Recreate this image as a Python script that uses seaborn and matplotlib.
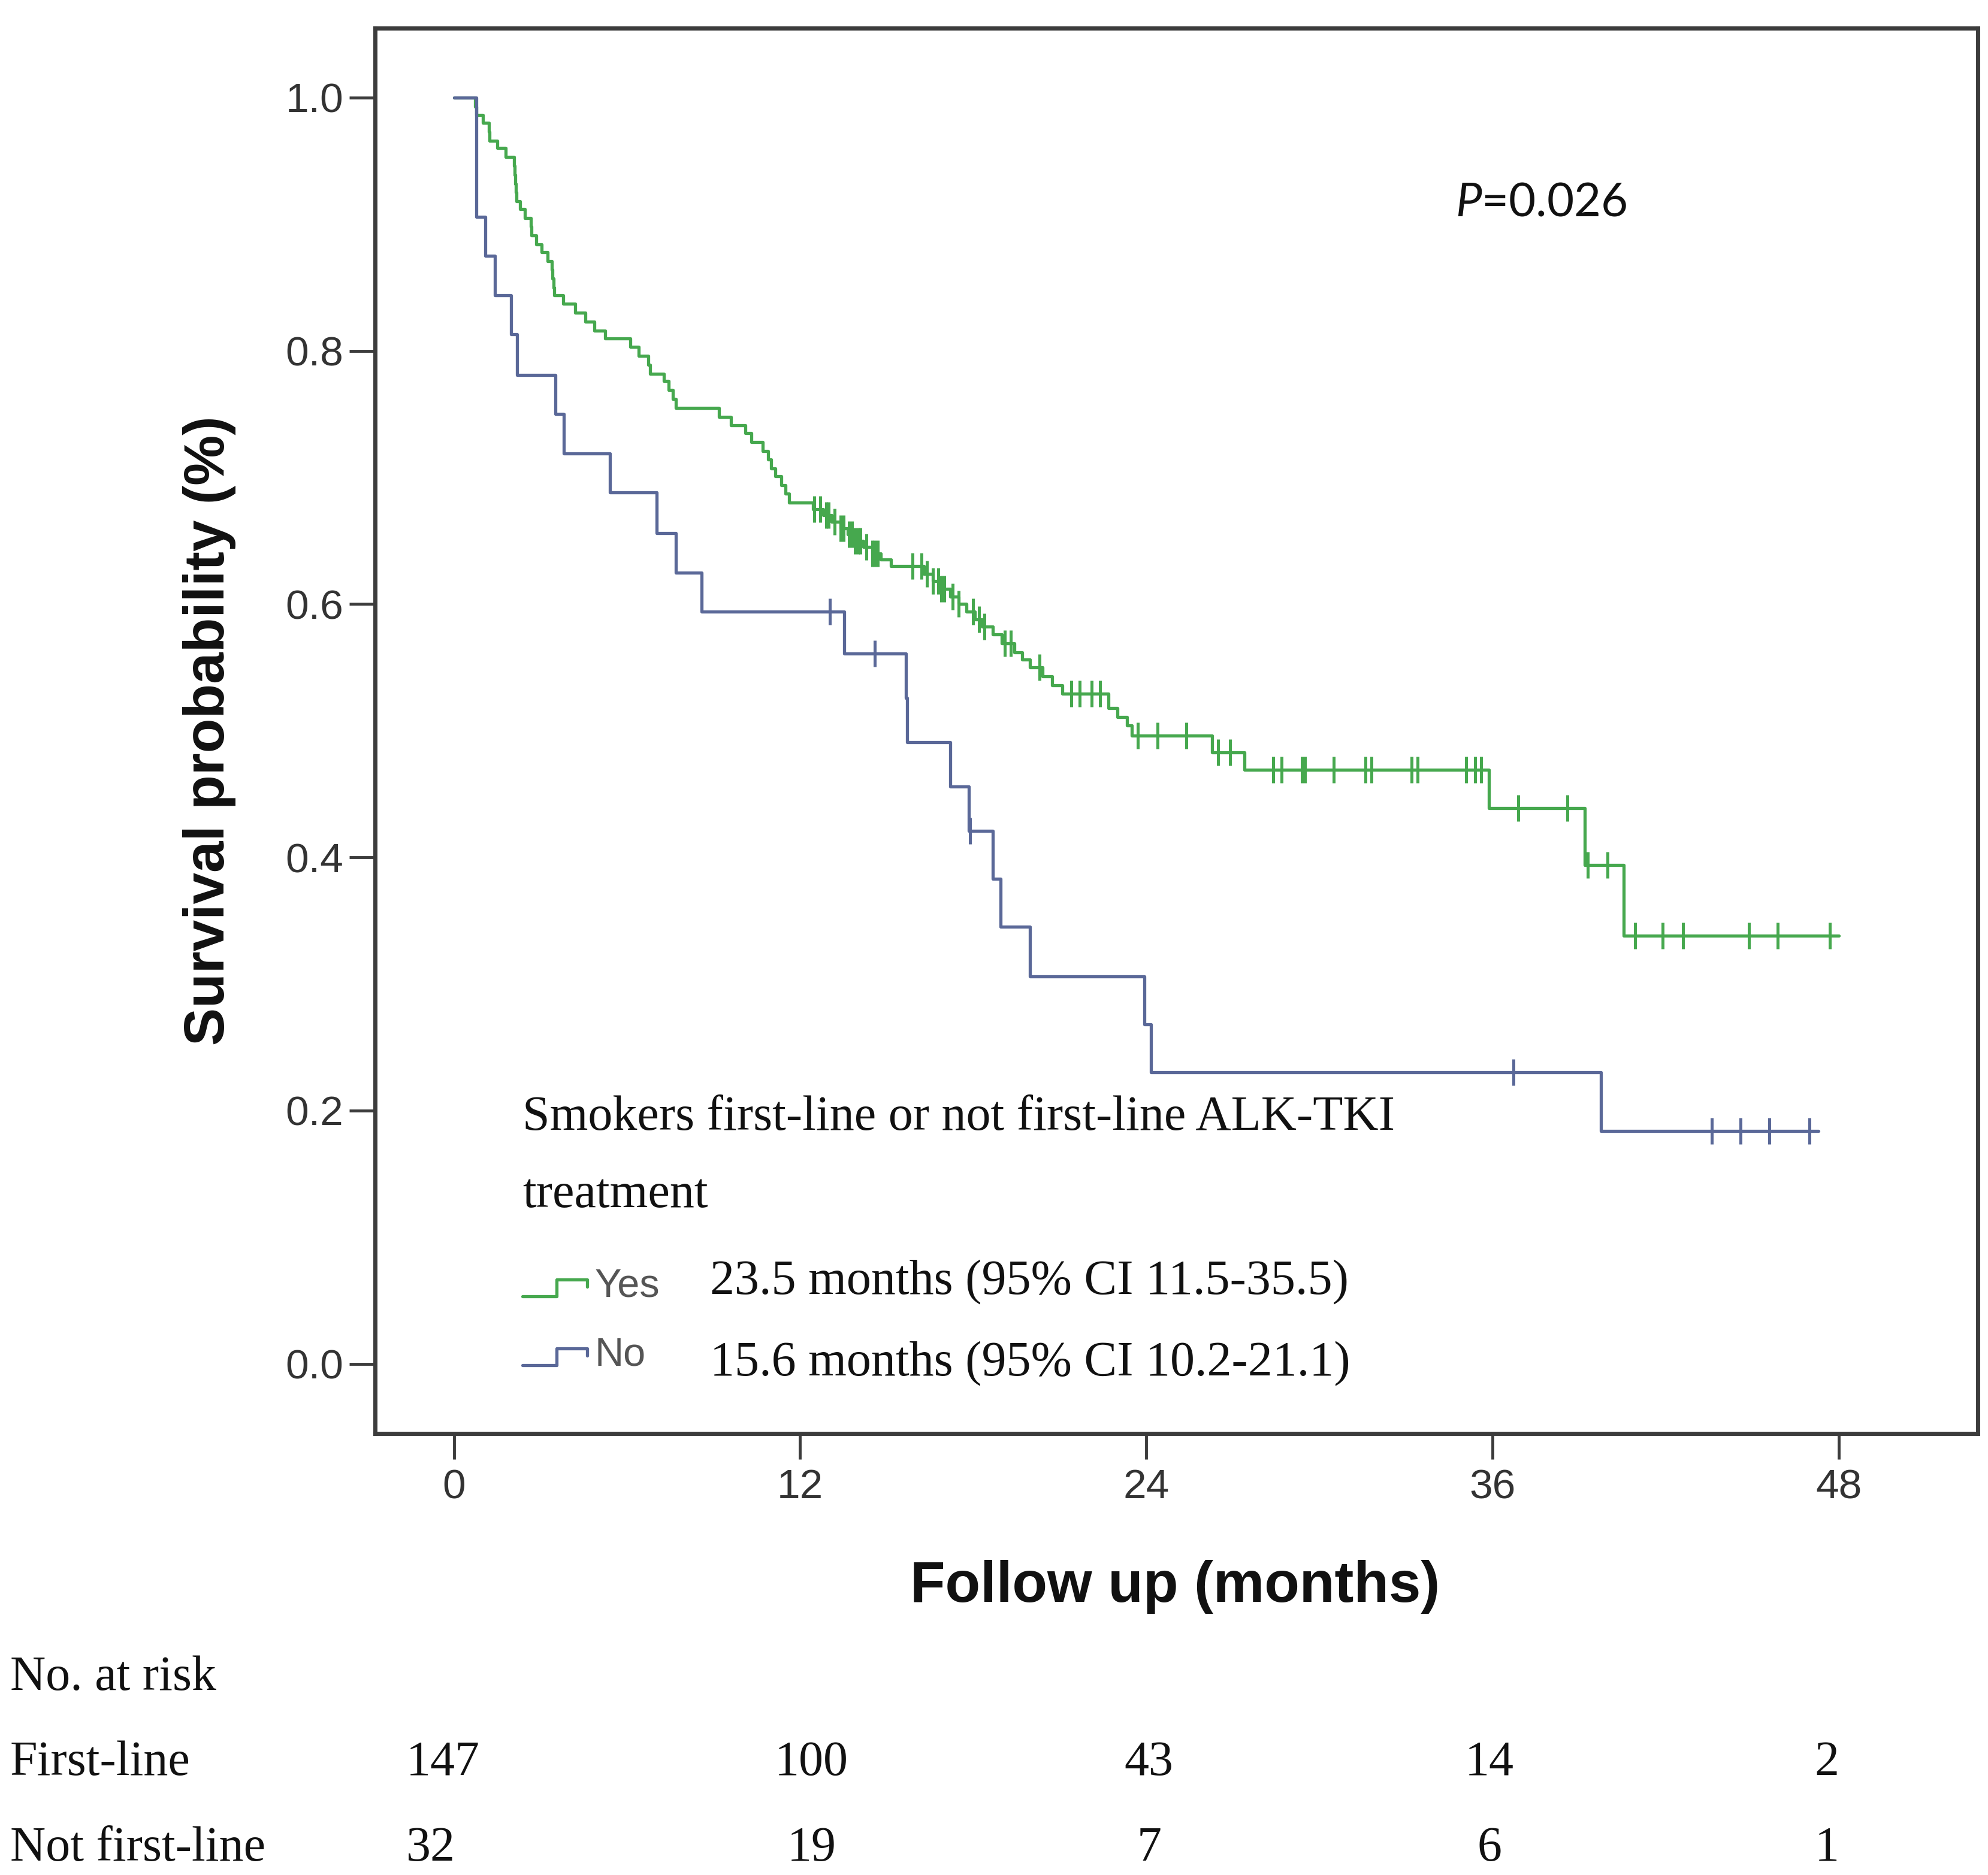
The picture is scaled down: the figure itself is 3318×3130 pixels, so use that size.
import numpy as np
import pandas as pd
import matplotlib
matplotlib.use("Agg")
import matplotlib.pyplot as plt
import matplotlib.transforms as mtrans
from matplotlib.lines import Line2D
from matplotlib.legend_handler import HandlerBase
import seaborn as sns

# ---------------- data ----------------
groups = ["Yes", "No"]

yes_time = [0, 0.74, 0.77, 1.00, 1.22, 1.24, 1.50, 1.80, 2.08, 2.10, 2.12, 2.14, 2.16,
            2.30, 2.45, 2.66, 2.68, 2.85, 3.05, 3.25, 3.40, 3.42, 3.45, 3.47, 3.80,
            4.20, 4.55, 4.87, 5.25, 6.11, 6.40, 6.74, 6.81, 7.28, 7.45, 7.60, 7.69,
            9.20, 9.60, 10.10, 10.31, 10.71, 10.90, 11.00, 11.15, 11.35, 11.50, 11.62,
            12.45, 12.80, 13.10, 13.40, 13.65, 13.90, 14.20, 14.50, 14.80, 15.16,
            16.30, 16.60, 16.90, 17.20, 17.50, 17.76, 18.05, 18.30, 18.68, 19.00,
            19.42, 19.70, 19.98, 20.40, 20.73, 21.10, 22.70, 23.00, 23.33, 23.51,
            26.28, 27.40, 35.88, 39.20, 40.56, 48.00]
yes_surv = [1.000, 0.993, 0.986, 0.980, 0.973, 0.966, 0.960, 0.953, 0.946, 0.939, 0.932,
            0.925, 0.918, 0.912, 0.905, 0.898, 0.891, 0.884, 0.878, 0.871, 0.864, 0.857,
            0.850, 0.844, 0.837, 0.830, 0.823, 0.816, 0.810, 0.803, 0.796, 0.789, 0.782,
            0.776, 0.769, 0.762, 0.755, 0.748, 0.741, 0.735, 0.728, 0.721, 0.714, 0.707,
            0.701, 0.694, 0.687, 0.680, 0.675, 0.670, 0.665, 0.660, 0.655, 0.650, 0.645,
            0.640, 0.635, 0.630, 0.624, 0.618, 0.612, 0.606, 0.600, 0.594, 0.588, 0.582,
            0.576, 0.569, 0.562, 0.556, 0.550, 0.543, 0.536, 0.529, 0.518, 0.511, 0.504,
            0.496, 0.483, 0.469, 0.439, 0.394, 0.338, 0.338]
yes_censor = [12.5, 12.7, 12.9, 13.0, 13.2, 13.4, 13.5, 13.7, 13.8, 13.9, 14.0, 14.1,
              14.3, 14.5, 14.6, 14.7, 15.9, 16.2, 16.4, 16.6, 16.8, 16.9, 17.0, 17.3,
              17.5, 18.0, 18.2, 18.4, 19.1, 19.3, 20.3, 21.4, 21.7, 22.1, 22.4, 23.7,
              24.4, 25.4, 26.5, 26.9, 28.4, 28.7, 29.4, 29.5, 30.5, 31.6, 31.8, 33.2,
              33.4, 35.1, 35.4, 35.6, 36.9, 38.6, 39.3, 40.0, 40.95, 41.9, 42.6, 44.9,
              45.9, 47.7]

no_time = [0, 0.77, 1.08, 1.42, 1.98, 2.19, 3.51, 3.81, 5.42, 7.03, 7.69, 8.59, 13.53,
           15.66, 15.72, 17.20, 17.85, 18.68, 18.96, 19.98, 23.93, 24.16, 39.77, 47.3]
no_surv = [1.000, 0.906, 0.875, 0.844, 0.813, 0.781, 0.750, 0.719, 0.688, 0.656, 0.625,
           0.594, 0.561, 0.526, 0.491, 0.456, 0.421, 0.383, 0.345, 0.306, 0.268, 0.230,
           0.184, 0.184]
no_censor = [13.03, 14.6, 17.9, 36.74, 43.6, 44.6, 45.6, 47.0]

risk_first = [147, 100, 43, 14, 2]
risk_not_first = [32, 19, 7, 6, 1]
risk_labels = ["First-line", "Not first-line"]

medians = ["23.5 months (95% CI 11.5-35.5)", "15.6 months (95% CI 10.2-21.1)"]
p_text = r"$P$=0.026"

y_ticks = [0.0, 0.2, 0.4, 0.6, 0.8, 1.0]
y_ticklabels = ["0.0", "0.2", "0.4", "0.6", "0.8", "1.0"]
x_ticks = [0, 12, 24, 36, 48]

# layout only: x anchor (data units) of each risk-table column
risk_col_x = [-1.66, 12.4, 24.1, 35.9, 47.6]
risk_col_ha = ["left", "center", "center", "center", "center"]

# ---------------- styling ----------------
sns.set_theme(style="white")
plt.rcParams["font.family"] = ["Liberation Sans", "DejaVu Sans"]
plt.rcParams["mathtext.fontset"] = "custom"
plt.rcParams["mathtext.it"] = "Lato:italic"
plt.rcParams["mathtext.rm"] = "Lato"

palette = {"Yes": "#46a84e", "No": "#5a6898"}

steps = pd.concat([
    pd.DataFrame({"time": yes_time, "surv": yes_surv, "group": "Yes"}),
    pd.DataFrame({"time": no_time, "surv": no_surv, "group": "No"}),
], ignore_index=True)


def lookup(times, tt, ss):
    idx = np.searchsorted(np.asarray(tt), np.asarray(times), side="right") - 1
    return np.asarray(ss)[idx]


cens = pd.concat([
    pd.DataFrame({"time": yes_censor, "surv": lookup(yes_censor, yes_time, yes_surv), "group": "Yes"}),
    pd.DataFrame({"time": no_censor, "surv": lookup(no_censor, no_time, no_surv), "group": "No"}),
], ignore_index=True)

fig = plt.figure(figsize=(33.18, 31.30), dpi=100)
ax = fig.add_axes([0.1887, 0.2355, 0.8062, 0.7496])

sns.lineplot(data=steps, x="time", y="surv", hue="group", palette=palette,
             estimator=None, sort=False, drawstyle="steps-post", linewidth=3.8,
             legend=False, ax=ax)
for g in groups:
    sub = cens[cens["group"] == g]
    ax.plot(sub["time"], sub["surv"], linestyle="none", marker="|", markersize=32,
            markeredgewidth=3.6, color=palette[g])

ax.set_xlim(-2.73, 52.83)
ax.set_ylim(-0.055, 1.055)
ax.set_xticks(x_ticks)
ax.set_xticklabels([str(t) for t in x_ticks])
ax.set_yticks(y_ticks)
ax.set_yticklabels(y_ticklabels)

for s in ax.spines.values():
    s.set_color("#3c3c3c")
    s.set_linewidth(5)
ax.tick_params(axis="both", direction="out", length=31, width=3.5, color="#3c3c3c",
               labelsize=50, labelcolor="#333333")
ax.tick_params(axis="y", pad=7, left=True)
ax.tick_params(axis="x", pad=11, bottom=True)

ax.set_ylabel("Survival probability (%)", fontsize=68, fontweight="bold", color="#111111")
ax.yaxis.label.set_va("center")
ax.yaxis.set_label_coords(-0.1035, 0.5)
ax.set_xlabel("Follow up (months)", fontsize=69, fontweight="bold", color="#111111")
ax.xaxis.label.set_va("center")
ax.xaxis.set_label_coords(0.499, -0.1093)

# P value
ax.text(0.674, 0.8753, p_text, transform=ax.transAxes, fontsize=56, va="center",
        family="Lato", color="#111111")

# legend block
serif = ["Liberation Serif", "DejaVu Serif"]
SF = 59
ax.text(0.092, 0.2246, "Smokers first-line or not first-line ALK-TKI", transform=ax.transAxes,
        family=serif, fontsize=SF, va="center", color="#111111")
ax.text(0.092, 0.1696, "treatment", transform=ax.transAxes,
        family=serif, fontsize=SF, va="center", color="#111111")
ax.text(0.209, 0.1074, medians[0], transform=ax.transAxes,
        family=serif, fontsize=SF, va="center", color="#111111")
ax.text(0.209, 0.0494, medians[1], transform=ax.transAxes,
        family=serif, fontsize=SF, va="center", color="#111111")


class StepHandler(HandlerBase):
    def create_artists(self, legend, orig_handle, xdescent, ydescent, width, height,
                       fontsize, trans):
        xs = np.array([0.0, 0.5, 0.5, 0.95, 0.95]) * width - xdescent
        ys = np.array([0.0, 0.0, 0.6, 0.6, 0.35]) * height - ydescent
        ln = Line2D(xs, ys, color=orig_handle.get_color(), lw=orig_handle.get_linewidth(),
                    transform=trans)
        return [ln]


handles = [Line2D([], [], color=palette[g], lw=3.8) for g in groups]
leg = ax.legend(handles, groups, handler_map={Line2D: StepHandler()},
                loc="upper left", bbox_to_anchor=(0.092, 0.118), frameon=False,
                prop={"family": "Liberation Sans", "size": 48}, labelcolor="#555555",
                handlelength=1.7, handletextpad=0.1, labelspacing=0.8,
                borderpad=0, borderaxespad=0)

# risk table
fig.text(0.005, 1 - 2801 / 3130, "No. at risk", family=serif, fontsize=SF, va="center",
         color="#111111")
blend = mtrans.blended_transform_factory(ax.transData, fig.transFigure)
for lab, vals, yy in [(risk_labels[0], risk_first, 1 - 2943 / 3130),
                      (risk_labels[1], risk_not_first, 1 - 3086 / 3130)]:
    fig.text(0.005, yy, lab, family=serif, fontsize=SF, va="center", color="#111111")
    for xc, ha, v in zip(risk_col_x, risk_col_ha, vals):
        fig.text(xc, yy, str(v), transform=blend, family=serif, fontsize=SF,
                 va="center", ha=ha, color="#111111")

fig.savefig("out.png", dpi=100, facecolor="white")
